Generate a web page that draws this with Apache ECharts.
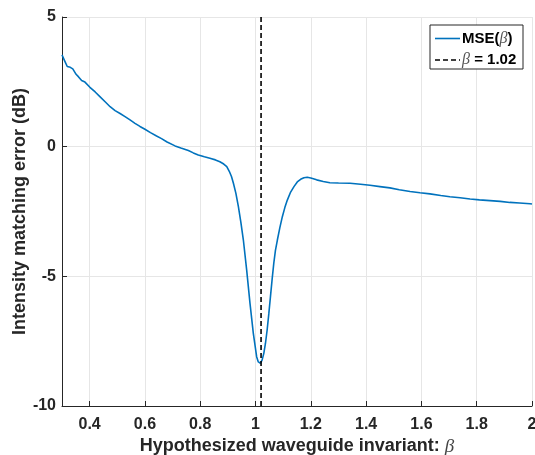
<!DOCTYPE html>
<html>
<head>
<meta charset="utf-8">
<script src="https://cdn.jsdelivr.net/npm/echarts@6/dist/echarts.min.js"></script>
<style>
  html, body { margin: 0; padding: 0; background: #fff; }
  #chart { width: 535px; height: 455px; }
</style>
</head>
<body>
<div id="chart"></div>
<script>
// Hypothesized waveguide invariant (beta) sampled along the sweep
const betaValues = [
  0.300, 0.310, 0.319, 0.330, 0.339, 0.351, 0.360, 0.371, 0.383, 0.401,
  0.420, 0.437, 0.455, 0.474, 0.492, 0.510, 0.528, 0.546, 0.564, 0.582,
  0.600, 0.620, 0.642, 0.660, 0.680, 0.709, 0.730, 0.757, 0.775, 0.793,
  0.815, 0.835, 0.855, 0.871, 0.885, 0.896, 0.905, 0.913, 0.920, 0.929,
  0.938, 0.947, 0.956, 0.968, 0.980, 0.992, 1.004, 1.010, 1.018, 1.024,
  1.030, 1.036, 1.042, 1.048, 1.054, 1.060, 1.066, 1.072, 1.079, 1.088,
  1.097, 1.106, 1.115, 1.127, 1.139, 1.151, 1.163, 1.175, 1.187, 1.200,
  1.221, 1.245, 1.269, 1.300, 1.342, 1.380, 1.414, 1.450, 1.486, 1.520,
  1.559, 1.595, 1.631, 1.670, 1.703, 1.740, 1.776, 1.810, 1.848, 1.885,
  1.920, 1.955, 1.993, 2.000
];
// Intensity matching error in dB for each beta
const mseValues = [
  3.54, 3.30, 3.09, 3.06, 3.00, 2.79, 2.69, 2.55, 2.49, 2.29,
  2.11, 1.93, 1.74, 1.54, 1.39, 1.28, 1.16, 1.03, 0.90, 0.78,
  0.67, 0.54, 0.41, 0.31, 0.18, 0.03, -0.05, -0.15, -0.24, -0.32,
  -0.39, -0.45, -0.51, -0.58, -0.67, -0.77, -0.95, -1.15, -1.41, -1.80,
  -2.31, -2.92, -3.60, -4.76, -6.04, -7.20, -8.10, -8.30, -8.35, -8.22,
  -7.97, -7.58, -7.07, -6.45, -5.78, -5.12, -4.50, -4.00, -3.60, -3.12,
  -2.70, -2.35, -2.06, -1.75, -1.54, -1.36, -1.26, -1.20, -1.18, -1.21,
  -1.28, -1.34, -1.39, -1.40, -1.41, -1.45, -1.49, -1.54, -1.59, -1.66,
  -1.73, -1.78, -1.82, -1.88, -1.93, -1.97, -2.02, -2.05, -2.08, -2.11,
  -2.15, -2.17, -2.20, -2.21
];
// Selected invariant marked by the vertical dashed line
const bestBeta = 1.02;
const bestBetaLabel = '1.02';

// Tick positions
const xTicks = [0.4, 0.6, 0.8, 1, 1.2, 1.4, 1.6, 1.8, 2];
const xMin = 0.3, xMax = 2;
const yMin = -10, yMax = 5, yStep = 5;

const axisColor = '#262626';
const gridColor = '#e6e6e6';
const sansFont = '"Liberation Sans", Arial, Helvetica, sans-serif';
const serifFont = '"Liberation Serif", "DejaVu Serif", serif';

const chart = echarts.init(document.getElementById('chart'), null, { renderer: 'canvas' });

const mseData = betaValues.map((b, i) => [b, mseValues[i]]);
const bestData = [[bestBeta, yMin], [bestBeta, yMax]];

// Legend box, top-right of the plot area
const legendX = 430, legendY = 25, legendW = 93, legendH = 44;
const row1 = 38.5, row2 = 60;

chart.setOption({
  animation: false,
  backgroundColor: '#ffffff',
  grid: { left: 62, right: 3, top: 17, bottom: 49, containLabel: false, outerBoundsMode: 'none' },
  xAxis: {
    type: 'value',
    min: xMin,
    max: xMax,
    name: '{b|Hypothesized waveguide invariant: }{g|β}',
    nameLocation: 'middle',
    nameGap: 31,
    nameMoveOverlap: false,
    nameTextStyle: {
      rich: {
        b: { fontFamily: sansFont, fontWeight: 'bold', fontSize: 18, color: axisColor },
        g: { fontFamily: serifFont, fontStyle: 'italic', fontSize: 19, color: '#444' }
      }
    },
    axisLine: { show: true, onZero: false, lineStyle: { color: axisColor, width: 1 } },
    axisTick: { show: true, inside: true, length: 5, customValues: xTicks, lineStyle: { color: axisColor } },
    axisLabel: {
      customValues: xTicks,
      margin: 11,
      fontFamily: sansFont, fontWeight: 'bold', fontSize: 16, color: axisColor,
      formatter: v => String(+v.toFixed(2))
    },
    splitLine: { show: true, lineStyle: { color: gridColor, width: 1 } }
  },
  yAxis: {
    type: 'value',
    min: yMin,
    max: yMax,
    interval: yStep,
    name: 'Intensity matching error (dB)',
    nameLocation: 'middle',
    nameGap: 33,
    nameMoveOverlap: false,
    nameTextStyle: { fontFamily: sansFont, fontWeight: 'bold', fontSize: 18, color: axisColor },
    axisLine: { show: true, onZero: false, lineStyle: { color: axisColor, width: 1 } },
    axisTick: { show: true, inside: true, length: 5, lineStyle: { color: axisColor } },
    axisLabel: {
      margin: 6,
      fontFamily: sansFont, fontWeight: 'bold', fontSize: 16, color: axisColor
    },
    splitLine: { show: true, lineStyle: { color: gridColor, width: 1 } }
  },
  series: [
    {
      name: 'MSE(β)',
      type: 'line',
      data: mseData,
      showSymbol: false,
      smooth: false,
      lineStyle: { color: '#0072BD', width: 1.6 },
      z: 3
    },
    {
      name: 'β = ' + bestBetaLabel,
      type: 'line',
      data: bestData,
      showSymbol: false,
      lineStyle: { color: '#000000', width: 1.6, type: [5, 3] },
      z: 4
    }
  ],
  graphic: [
    {
      type: 'rect',
      shape: { x: legendX, y: legendY, width: legendW, height: legendH },
      style: { fill: '#ffffff', stroke: '#262626', lineWidth: 1 },
      z: 10
    },
    {
      type: 'line',
      shape: { x1: 435, y1: row1, x2: 460, y2: row1 },
      style: { stroke: '#0072BD', lineWidth: 1.6 },
      z: 11
    },
    {
      type: 'text',
      x: 462, y: row1,
      style: {
        text: '{b|MSE(}{g|β}{b|)}',
        verticalAlign: 'middle',
        rich: {
          b: { fontFamily: sansFont, fontWeight: 'bold', fontSize: 15, fill: '#000' },
          g: { fontFamily: serifFont, fontStyle: 'italic', fontSize: 16, fill: '#555' }
        }
      },
      z: 11
    },
    {
      type: 'line',
      shape: { x1: 435, y1: row2, x2: 460, y2: row2 },
      style: { stroke: '#000000', lineWidth: 1.6, lineDash: [5, 3] },
      z: 11
    },
    {
      type: 'text',
      x: 462, y: row2,
      style: {
        text: '{g|β}{b| = ' + bestBetaLabel + '}',
        verticalAlign: 'middle',
        rich: {
          b: { fontFamily: sansFont, fontWeight: 'bold', fontSize: 15, fill: '#000' },
          g: { fontFamily: serifFont, fontStyle: 'italic', fontSize: 16, fill: '#555' }
        }
      },
      z: 11
    }
  ]
});
</script>
</body>
</html>
